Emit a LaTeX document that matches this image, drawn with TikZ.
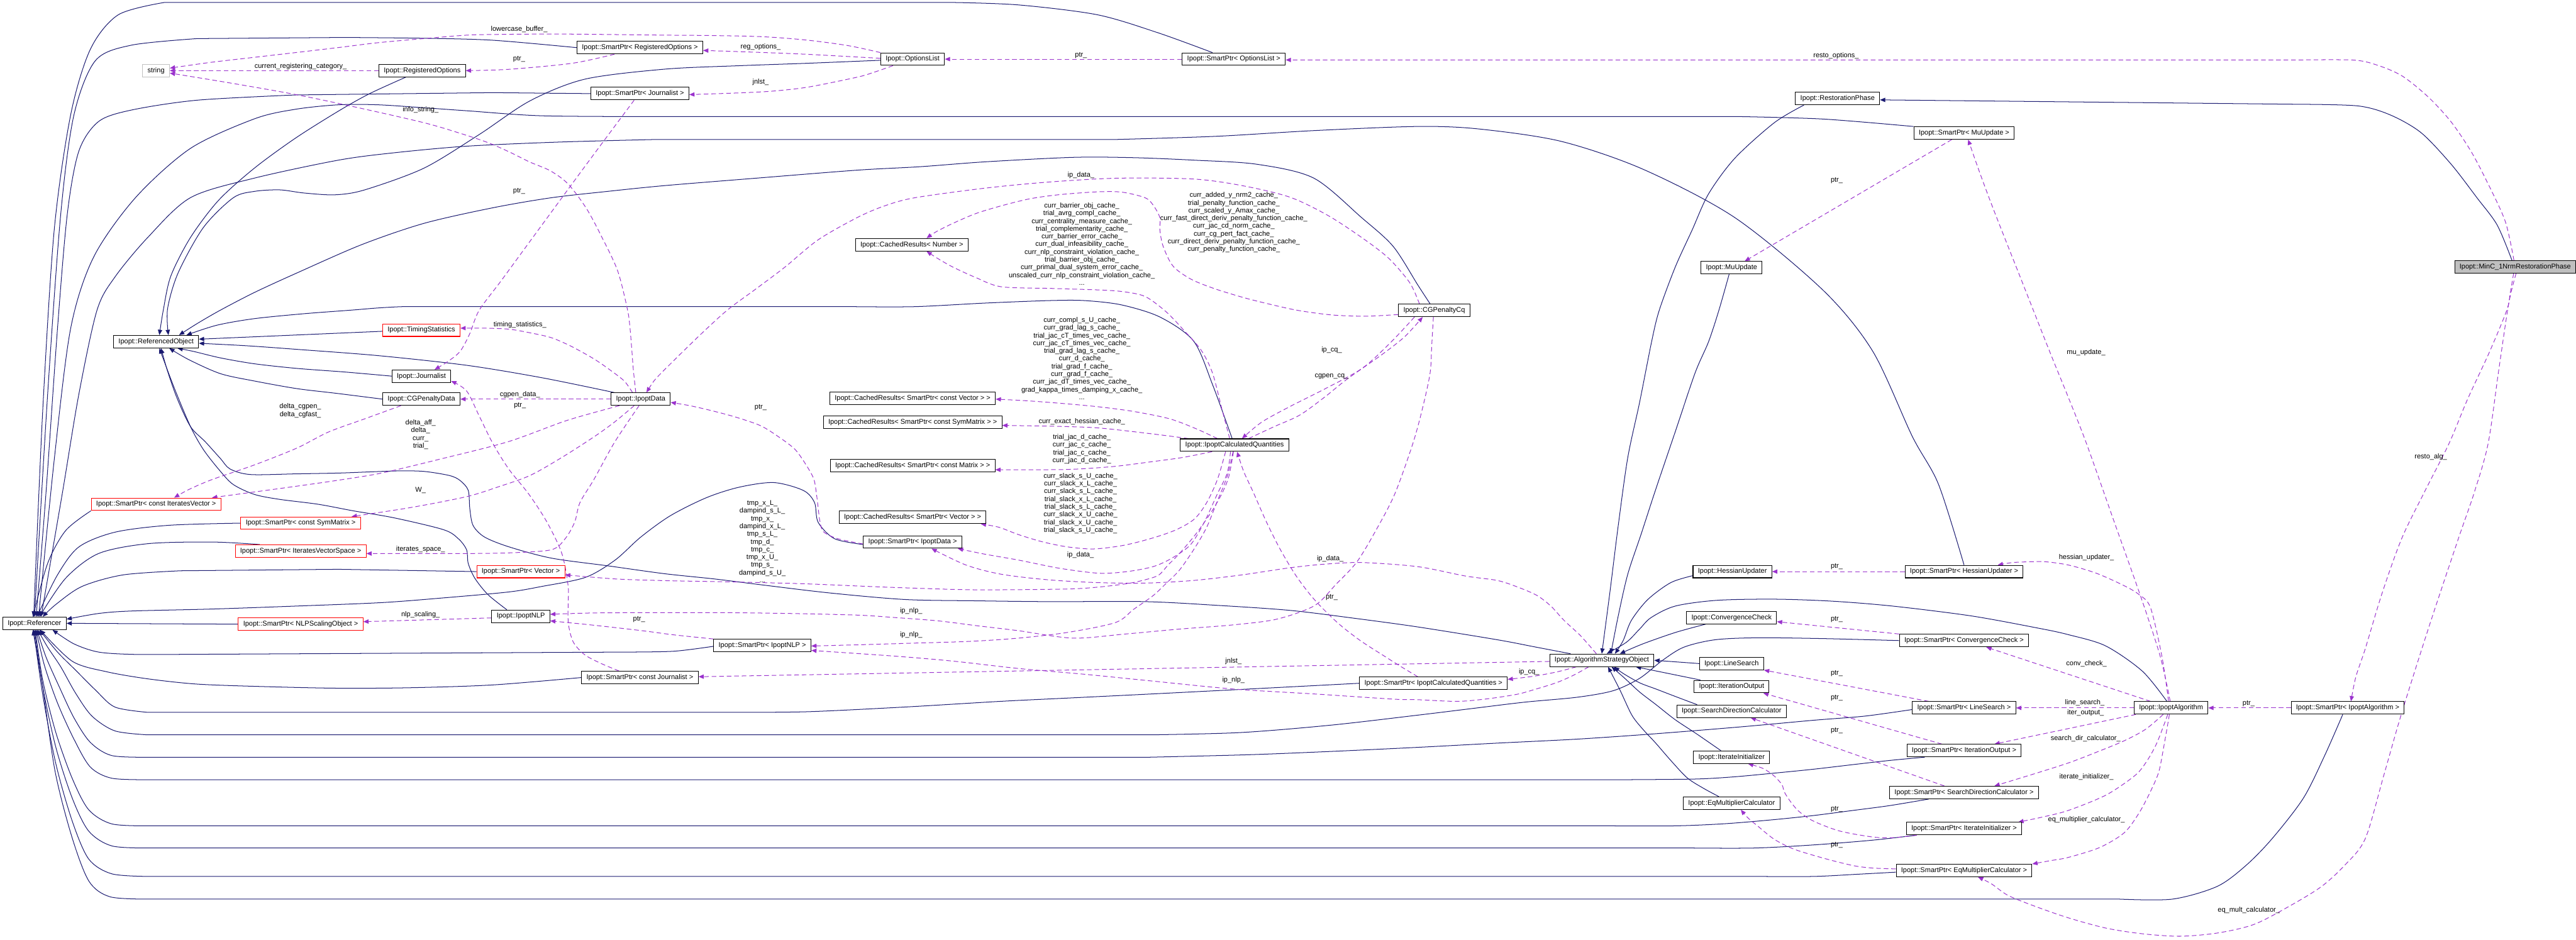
\documentclass[tikz,border=0pt]{standalone}
\usepackage{fontspec}
\setmainfont{Liberation Sans}
\usetikzlibrary{arrows.meta,backgrounds}
\definecolor{inhblue}{HTML}{191970}
\definecolor{mempurple}{HTML}{9A32CD}
\definecolor{undocred}{HTML}{FF0000}
\definecolor{mainfill}{HTML}{BFBFBF}

\begin{document}
\begin{tikzpicture}[x=1mm, y=-1mm,
    font=\fontsize{12}{13.4}\selectfont,
    cls/.style={draw=black, fill=white, line width=1.1pt, minimum height=7.6mm, inner xsep=3mm, inner ysep=0pt},
    clsred/.style={cls, draw=undocred},
    clsext/.style={cls, draw=mainfill},
    clsmain/.style={cls, fill=mainfill},
    inherit/.style={draw=inhblue, line width=1.1pt, -{Triangle[length=3.2mm, width=2.6mm]}},
    member/.style={draw=mempurple, line width=1.1pt, dash pattern=on 8pt off 5pt, -{Triangle[length=3.2mm, width=2.6mm]}},
    lbl/.style={inner sep=0pt, align=center}]
    \useasboundingbox (0,0) rectangle (1568,572);
    % classes, left part
    \node[clsext] (str) at (95,43) {string};
    \node[cls] (regopt) at (257,43) {Ipopt::RegisteredOptions};
    \node[cls] (spregopt) at (389.5,29) {Ipopt::SmartPtr< RegisteredOptions >};
    \node[cls] (optlist) at (555.5,36) {Ipopt::OptionsList};
    \node[cls] (spoptlist) at (751,36) {Ipopt::SmartPtr< OptionsList >};
    \node[cls] (spjnl) at (389.5,57) {Ipopt::SmartPtr< Journalist >};
    \node[cls] (refobj) at (95,208) {Ipopt::ReferencedObject};
    \node[clsred] (timing) at (256.5,201) {Ipopt::TimingStatistics};
    \node[cls] (jnl) at (256.5,229) {Ipopt::Journalist};
    \node[cls] (cgpdata) at (256.5,243) {Ipopt::CGPenaltyData};
    \node[cls] (ipdata) at (390,243) {Ipopt::IpoptData};
    \node[clsred] (spitv) at (95,307) {Ipopt::SmartPtr< const IteratesVector >};
    \node[clsred] (spsym) at (183,318.5) {Ipopt::SmartPtr< const SymMatrix >};
    \node[clsred] (spivs) at (183,335.5) {Ipopt::SmartPtr< IteratesVectorSpace >};
    \node[clsred] (spvec) at (317,348) {Ipopt::SmartPtr< Vector >};
    \node[cls] (referencer) at (21,379.5) {Ipopt::Referencer};
    \node[clsred] (spnlps) at (183,380) {Ipopt::SmartPtr< NLPScalingObject >};
    \node[cls] (ipnlp) at (317,375.2) {Ipopt::IpoptNLP};
    \node[cls] (spcjnl) at (389.5,412.5) {Ipopt::SmartPtr< const Journalist >};
    \node[cls] (spipnlp) at (464,393) {Ipopt::SmartPtr< IpoptNLP >};
    % classes, middle part
    \node[cls] (crnum) at (555,149) {Ipopt::CachedResults< Number >};
    \node[cls] (crvec) at (555.5,242.5) {Ipopt::CachedResults< SmartPtr< const Vector > >};
    \node[cls] (crsym) at (555.5,257) {Ipopt::CachedResults< SmartPtr< const SymMatrix > >};
    \node[cls] (crmat) at (555.5,283.5) {Ipopt::CachedResults< SmartPtr< const Matrix > >};
    \node[cls] (crsvec) at (555.5,315) {Ipopt::CachedResults< SmartPtr< Vector > >};
    \node[cls] (spipdata) at (555.5,330) {Ipopt::SmartPtr< IpoptData >};
    \node[cls] (ipcq) at (751.5,271) {Ipopt::IpoptCalculatedQuantities};
    \node[cls] (cgpcq) at (873,189) {Ipopt::CGPenaltyCq};
    \node[cls] (spipcq) at (872.5,416) {Ipopt::SmartPtr< IpoptCalculatedQuantities >};
    \node[cls] (aso) at (975,402) {Ipopt::AlgorithmStrategyObject};
    % classes, right part
    \node[cls] (resto) at (1118.5,60) {Ipopt::RestorationPhase};
    \node[cls] (spmu) at (1195.5,81) {Ipopt::SmartPtr< MuUpdate >};
    \node[cls] (mu) at (1054,163) {Ipopt::MuUpdate};
    \node[cls] (hess) at (1054.5,348) {Ipopt::HessianUpdater};
    \node[cls] (sphess) at (1195.5,348) {Ipopt::SmartPtr< HessianUpdater >};
    \node[cls] (conv) at (1054,376) {Ipopt::ConvergenceCheck};
    \node[cls] (spconv) at (1195.5,390) {Ipopt::SmartPtr< ConvergenceCheck >};
    \node[cls] (ls) at (1054,404) {Ipopt::LineSearch};
    \node[cls] (itout) at (1054,418) {Ipopt::IterationOutput};
    \node[cls] (sdc) at (1054,433) {Ipopt::SearchDirectionCalculator};
    \node[cls] (itinit) at (1054,461) {Ipopt::IterateInitializer};
    \node[cls] (eqm) at (1054,489) {Ipopt::EqMultiplierCalculator};
    \node[cls] (spls) at (1195.5,431) {Ipopt::SmartPtr< LineSearch >};
    \node[cls] (spitout) at (1195.5,457) {Ipopt::SmartPtr< IterationOutput >};
    \node[cls] (spsdc) at (1195.5,482.5) {Ipopt::SmartPtr< SearchDirectionCalculator >};
    \node[cls] (spitinit) at (1195.5,504.5) {Ipopt::SmartPtr< IterateInitializer >};
    \node[cls] (speqm) at (1195.5,530) {Ipopt::SmartPtr< EqMultiplierCalculator >};
    \node[cls] (alg) at (1321.5,431) {Ipopt::IpoptAlgorithm};
    \node[cls] (spalg) at (1429,431) {Ipopt::SmartPtr< IpoptAlgorithm >};
    \node[clsmain] (minc) at (1531,162.5) {Ipopt::MinC\_1NrmRestorationPhase};

    \begin{pgfonlayer}{background}
    % inheritance, SmartPtr -> Referencer
    \draw[inherit] plot[smooth] coordinates {([xshift=-13mm]spoptlist.north) (705,20) (668,9) (620,3) (580,1.5)} -- plot[smooth] coordinates {(100,1.5) (72,9) (55,30) (43,70) (33,140) (26,250) ([xshift=-0.5mm]referencer.north)};
    \draw[inherit] plot[smooth] coordinates {(spregopt.west) (300,24.5) (258,23.3) (210,22.8)} -- plot[smooth] coordinates {(120,23.5) (80,27.5) (58,37) (45,70) (37,130) (29,240) (referencer.north)};
    \draw[inherit] plot[smooth] coordinates {(spjnl.west) (300,56.4)} -- plot[smooth] coordinates {(180,57.8) (120,61) (80,67) (60,74) (48,92) (41,130) (35,200) (28,300) ([xshift=1mm]referencer.north)};
    \draw[inherit] plot[smooth] coordinates {(spmu.north west) (1110,72.5) (1060,71)} -- plot[smooth] coordinates {(400,71) (330,70.5) (285,67.5) (258,65.6) (230,63.8) (206,63.8) (180,66.5) (155,72.3) (116,90.3) (82.5,120.3) (57,156.5) (43,200) (33,280) ([xshift=2.5mm]referencer.north)};
    \draw[inherit] plot[smooth] coordinates {(sphess.north) (1180,295) (1164,265.7) (1140,214) (1110,177) (1056,132.5) (1000,103) (950,86) (900,78.5) (863,77) (800,79.5) (740,83) (680,84.9)} -- plot[smooth] coordinates {(400,84.9) (340,86.5) (284,89) (240,93) (206,97.5) (155,108.4) (116,120.3) (90,144.5) (70,168.6) (59,189) (48,240) (38,300) ([xshift=4mm]referencer.north)};
    \draw[inherit] plot[smooth] coordinates {(spitv.south west) (40,323) (29,343) ([xshift=-1mm]referencer.north)};
    \draw[inherit] plot[smooth] coordinates {(spsym.west) (103,319.8) (70,324) (48,333) (35,350) ([xshift=1.5mm]referencer.north)};
    \draw[inherit] plot[smooth] coordinates {([xshift=-25mm]spivs.north) (129,330) (90,331) (60,337) (40,352) ([xshift=3mm]referencer.north)};
    \draw[inherit] plot[smooth] coordinates {(spvec.west) (206,346.6)} -- plot[smooth] coordinates {(110,347.5) (75,350) (50,357) (34,368) ([xshift=5mm]referencer.north)};
    \draw[inherit] plot[smooth] coordinates {([yshift=-1.5mm]spipdata.west) (508,328) (498,318) (495.8,306) (489,298.6) (471,293.8) (450,296.6) (430,303) (408,314) (390,327) (374.4,341) (356.4,351.5) (330,357) (309.7,360.4) (270,364) (232,366.9) (180,369) (129,370.8) (80,372) (60,373.5) ([yshift=2.5mm]referencer.east)};
    \draw[inherit] (spnlps.west) -- (referencer.east);
    \draw[inherit] plot[smooth] coordinates {([yshift=-0.5mm]spipnlp.west) (410,396.5) (380,397)} -- plot[smooth] coordinates {(110,398.4) (81,398.4) (60,397) (45,392) ([xshift=11mm]referencer.south)};
    \draw[inherit] plot[smooth] coordinates {(spcjnl.west) (300,417) (250,418.7) (206,419) (160,418) (120,416.5) (90,413.3) (65,409) (44,402.6) ([xshift=3.5mm]referencer.south)};
    \draw[inherit] plot[smooth] coordinates {(spipcq.west) (760,419.5) (697,422.7) (650,425) (609,427) (550,430.5) (492,433.3) (450,433.7)} -- plot[smooth] coordinates {(90,433.7) (70,430.5) (58,420) (46,408) (35,397) ([xshift=3mm]referencer.south)};
    \draw[inherit] plot[smooth] coordinates {(spconv.west) (1110,388.8) (1070,388.3) (1044,389.5) (1025,394) (1012,402) (998,413) (982,420.5) (960,424.5) (928,427.5) (895,431.5) (863,435.4) (810,441.5) (755,446) (700,447.4)} -- plot[smooth] coordinates {(90,447.4) (70,445) (56,436) (46,422) (37,406) (29,394) ([xshift=2mm]referencer.south)};
    \draw[inherit] plot[smooth] coordinates {([yshift=-1mm]spls.west) (1135,436) (1104,438.5) (1060,442.5) (1008,446.7) (960,450) (910,452.5) (863,455) (810,457.5) (760,459.5) (700,461)} -- plot[smooth] coordinates {(90,461) (68,460) (55,452) (45,437) (36,418) (28,400) ([xshift=1.5mm]referencer.south)};
    \draw[inherit] plot[smooth] coordinates {([xshift=-24mm]spitout.south) (1150,463) (1128,465.5) (1104,468.3) (1080,470.7) (1055,473) (1031.8,474.3) (990,474.7)} -- plot[smooth] coordinates {(90,474.7) (68,473.8) (55,467) (45,450) (35,428) (27,405) ([xshift=1mm]referencer.south)};
    \draw[inherit] plot[smooth] coordinates {([xshift=-21.5mm]spsdc.south) (1150,490.5) (1128,493.4) (1104,496.5) (1080,499) (1050,501.5) (1019.7,502.8) (980,502.8)} -- plot[smooth] coordinates {(90,502.8) (68,501.6) (54,493) (44,474) (34,446) (26,414) ([xshift=0.5mm]referencer.south)};
    \draw[inherit] plot[smooth] coordinates {([xshift=-29mm]spitinit.south) (1140,511.5) (1104,514.4) (1068,516.3) (1030,516.3)} -- plot[smooth] coordinates {(90,516.3) (68,515) (54,506) (44,486) (34,455) (26,418) (referencer.south)};
    \draw[inherit] plot[smooth] coordinates {([yshift=-1mm]speqm.west) (1130,532.3) (1104,533.6) (1070,533.6)} -- plot[smooth] coordinates {(90,533.6) (68,532) (54,523) (44,500) (34,465) (26,423) ([xshift=-0.5mm]referencer.south)};
    \draw[inherit] plot[smooth] coordinates {([xshift=-3mm]spalg.south) (1415,460) (1402,486) (1383,510.6) (1367,527) (1349.5,539.7) (1322.4,547.4) (1290,547.4)} -- plot[smooth] coordinates {(90,547.4) (67,546) (54.2,536.6) (43.9,510) (33.6,470) (25.8,417) ([xshift=-1mm]referencer.south)};
    % inheritance -> ReferencedObject
    \draw[inherit] plot[smooth] coordinates {([xshift=-10mm]regopt.south) (225,57) (206.4,67.4) (180,84) (154.8,102.4) (133,122) (116,144.5) (104,168) (99.4,188.8) ([xshift=2mm]refobj.north)};
    \draw[inherit] plot[smooth] coordinates {([yshift=-0.7mm]optlist.west) (492,38.5) (450,40) (404.6,42.1) (356,48.2) (322.6,61.4) (291.7,81.9) (258,102.4) (222,115.6) (203.9,118.6) (185,117.5) (170.3,115.6) (155,116.5) (142,120.4) (123.8,138.5) (108.4,166.2) (102,188) ([xshift=7.5mm]refobj.north)};
    \draw[inherit] ([yshift=-0.7mm]timing.west) -- ([yshift=1.5mm]refobj.east);
    \draw[inherit] plot[smooth] coordinates {(jnl.west) (210,226.5) (180.7,224.3) (155,221.5) (134.2,217.9) (118,214) ([xshift=13mm]refobj.south)};
    \draw[inherit] plot[smooth] coordinates {(cgpdata.west) (205,239.5) (180.7,236.6) (155,232) (134.2,227.5) (115,219) ([xshift=8mm]refobj.south)};
    \draw[inherit] plot[smooth] coordinates {([xshift=-16mm]ipdata.north) (330,230) (284,222.4) (230,216.5) (180.7,212.7) (150,210.5) ([yshift=-1mm]refobj.east)};
    \draw[inherit] plot[smooth] coordinates {([xshift=-8.5mm]ipnlp.north) (297,362) (289,352) (285,343) (284,334.7) (279,328) (270,322.5) (240,315.3) (215,311) (193.6,307) (170,304) (154.8,301) (142,295) (134.2,287) (124,274) (116,259.8) (106,236) ([xshift=2mm]refobj.south)};
    \draw[inherit] plot[smooth] coordinates {([xshift=-1.5mm]ipcq.north) (738,234) (726.5,207.6) (706,193) (682.5,185.6) (660,183) (638.8,183) (600,184.5) (556.8,186.7) (520,186.7)} -- plot[smooth] coordinates {(260,186.7) (245,186.7) (230,187.5) (214,188.8) (185,191) (154.8,194) (132,198) ([xshift=18.5mm]refobj.north)};
    \draw[inherit] plot[smooth] coordinates {([xshift=-2.5mm]cgpcq.north) (863,173.5) (848,150) (828.8,132.5) (799.6,108.4) (765,100) (726.5,97.5) (690,96) (653.4,95.8) (600,98.5) (560,101.5) (521.7,103.6) (460,108.5) (404.6,113) (370,116.5) (335.5,120.4) (300,126.5) (258,136) (220,149) (180.7,166.2) (155,178) (134.2,188.8) (120,197) ([xshift=14mm]refobj.north)};
    \draw[inherit] plot[smooth] coordinates {([xshift=-19mm]aso.north) (935,394) (911.4,389.5) (863,381.7) (825,376.5) (785,371.6) (740,368.5) (697,366.3) (638.8,366.3) (595,365.8) (551,365) (505,361) (463,356) (435,352.5) (404.6,349.3) (370,344.5) (335.6,339.8) (310,333) (295,327) (288,320) (286,310) (285,298.5) (280,292.5) (273.5,289.5) (258,287) (242.5,286.7) (225,287.3) (206.4,288) (180,288.5) (152.3,288.9) (140,285.5) (134.2,279.2) (125,269) (116,259.8) (108,243) (102,226) ([xshift=3mm]refobj.south)};
    % inheritance -> AlgorithmStrategyObject, RestorationPhase
    \draw[inherit] plot[smooth] coordinates {([xshift=-20.5mm]resto.south) (1080,74.7) (1056,96.3) (1040,118) (1030,140) (1019.7,162.6) (1010,188.8) (1005.4,207.6) (998,245) (990.8,278.6) (985,320) (980,360) (aso.north)};
    \draw[inherit] plot[smooth] coordinates {([xshift=-1.5mm]mu.south) (1046.3,188.8) (1040,208) (1031.8,227) (1020,262) (1007.8,298) (999,325) (990.8,349.6) (985,375) ([xshift=5.5mm]aso.north)};
    \draw[inherit] plot[smooth] coordinates {([yshift=-2.5mm]hess.west) (1017,354.7) (1003,365) (993,377.7) (988,390) ([xshift=8mm]aso.north)};
    \draw[inherit] plot[smooth] coordinates {([xshift=-15.7mm]conv.south) (1020,385) (1000,392) ([xshift=11mm]aso.north)};
    \draw[inherit] (ls.west) -- (aso.east);
    \draw[inherit] ([xshift=-19mm]itout.north) -- ([xshift=20.7mm]aso.south);
    \draw[inherit] plot[smooth] coordinates {([xshift=-21mm]sdc.north) (1019.7,424) (1008,419.5) (998,415.7) (988,410) ([xshift=7.5mm]aso.south)};
    \draw[inherit] plot[smooth] coordinates {([xshift=-6.5mm]itinit.north) (1033,447) (1019.7,438.2) (1008,429) (998,421.3) (989,413) ([xshift=6mm]aso.south)};
    \draw[inherit] plot[smooth] coordinates {([xshift=-7.7mm]eqm.north) (1037,480) (1027,473.6) (1017,463) (1007.8,452.4) (1000,444) (993.3,435.4) (986,420) ([xshift=3.8mm]aso.south)};
    \draw[inherit] plot[smooth] coordinates {([xshift=-2.5mm]alg.north) (1304,408.6) (1281.6,393.2) (1259,386.4) (1241,382.5) (1200,375) (1152,369) (1115,366) (1080,364.8) (1045,365.5) (1019.7,369) (1005,376) (998,383) (990,391) ([xshift=3mm]aso.north)};
    \draw[inherit] plot[smooth] coordinates {([xshift=-2mm]minc.north) (1520,137) (1507.7,120.4) (1492,100) (1473.7,80.8) (1455,70) (1435.4,64.5) (1400,63.5)} -- ([yshift=-0.8mm]resto.east);
    % members, top left
    \draw[member] (regopt.west) -- (str.east);
    \draw[member] plot[smooth] coordinates {(optlist.north west) (515.8,27.7) (490,24.3) (463,22.3) (430,21.6) (404.6,21.4) (370,21) (335.6,20.7) (300,21) (284,21.4) (258,23.5) (230,26) (206.4,28.9) (180,32) (154.8,34.9) (128,38) ([yshift=1.5mm]str.east)};
    \draw[member] plot[smooth] coordinates {([xshift=-3mm]ipdata.north) (385.5,225) (384.7,214.6) (383.5,200) (382,188.8) (376,165) (366.4,144.5) (357,127) (345.8,112) (335,104) (322.6,98.7) (310,92.5) (296.7,86.7) (278,80.5) (258,74.7) (220,66) (180.7,57.7) (140,50.5) ([yshift=-1.5mm]str.east)};
    \draw[member] plot[smooth] coordinates {([xshift=-15.5mm]spregopt.south) (348.4,38.5) (309.7,42.2) (regopt.east)};
    \draw[member] plot[smooth] coordinates {([yshift=0.5mm]optlist.west) (492,33.1) (460,31.8) ([yshift=-1.7mm]spregopt.east)};
    \draw[member] plot[smooth] coordinates {([xshift=-12mm]optlist.south) (532,44) (521.7,47) (492,53) (470,55.5) (448.6,56.6) ([yshift=-0.6mm]spjnl.east)};
    \draw[member] (spoptlist.west) -- (optlist.east);
    \draw[member] plot[smooth] coordinates {([xshift=-0.8mm]minc.north) (1525,135) (1514.4,111.8) (1504,92) (1491.8,74) (1478,59) (1462.4,46.4) (1448,40) (1433,36.6) (1400,36.5)} -- ([yshift=-0.5mm]spoptlist.east);
    \draw[member] plot[smooth] coordinates {([xshift=-3.5mm]spjnl.south) (357,100) (324,145) (305,171) (291.6,189) (286,203) (280,214) (272,220.5) ([xshift=8mm]jnl.north)};
    \draw[member] plot[smooth] coordinates {([xshift=-5mm]ipdata.north) (380,232) (371,225) (361.5,218.5) (348,211) (335.6,205.6) (322,202.5) (309.7,200.4) (295,199.8) ([yshift=1.2mm]timing.east)};
    \draw[member] (ipdata.west) -- (cgpdata.east);
    \draw[member] plot[smooth] coordinates {([xshift=-12.7mm]spcjnl.north) (366,404) (356,398.7) (349,391) (346,380) (345.8,368) (345.8,356.6) (342,337) (333,318) (322,301) (309.7,285.6) (300,270) (291.7,253.3) (284,238) ([yshift=1mm]jnl.south east)};
    \draw[member] plot[smooth] coordinates {([xshift=-4mm]ipdata.south) (374,257) (361.5,266) (342,278.5) (322.6,289.5) (303,296.5) (283.9,302.4) (250,309) ([xshift=31mm]spsym.north)};
    \draw[member] plot[smooth] coordinates {([xshift=-13mm]ipdata.south) (345,256) (309.7,268.8) (270,279) (232.3,288) (205,292.5) (180.6,296) (155,299.5) ([xshift=34mm]spitv.north)};
    \draw[member] plot[smooth] coordinates {([xshift=-12.5mm]cgpdata.south) (222,255) (200,263) (180.7,272.8) (155,283) (129,292) (115,298) ([xshift=11mm]spitv.north)};
    \draw[member] plot[smooth] coordinates {([xshift=-1mm]ipdata.south) (374.3,268.9) (361.4,292.1) (353,306) (349.8,317.9) (344,328) (335.6,334.7) (310,336.6) (284,337) (254,337) ([yshift=-1.5mm]spivs.east)};
    \draw[member] ([yshift=-1mm]ipnlp.west) -- ([yshift=1.5mm]spnlps.east);
    \draw[member] plot[smooth] coordinates {(spipnlp.north west) (410,386.5) (391,384) (360,380.5) ([yshift=-2.8mm]ipnlp.east)};
    % members, middle
    \draw[member] plot[smooth] coordinates {([xshift=-0.5mm]cgpcq.south) (871.5,210) (870.5,227) (866,248) (860,270) (849,300.7) (838,322) (826,342) (813,356) (800,368.8) (777,377) (750,380.5) (718,383) (685,386) (653,388.5) (620,384) (595,381) (571,378) (545,376) (522,374.5) (480,373.5) (440,373) (391,373) (360,373.2) ([yshift=1.2mm]ipnlp.east)};
    \draw[member] plot[smooth] coordinates {([xshift=-1mm]ipcq.south) (747,290) (741,305) (734.5,321) (727,334) (718,347) (710,355) (701.8,362.7) (690,371) (679,379) (650,385) (620,388.5) (590,390.5) (554.6,391.6) (525,392.5) ([yshift=-0.3mm]spipnlp.east)};
    \draw[member] plot[smooth] coordinates {([xshift=-8mm]aso.south) (958,411) (947.5,415.6) (935,419.5) (923.4,422.7) (905,425.5) (887,427) (863,426) (849,425.7) (800,422.5) (750.8,419.5) (700,414.5) (660,410.5) (620,407) (580,402.5) (545,399.5) ([yshift=-3mm]spipnlp.east)};
    \draw[member] ([yshift=-0.7mm]aso.west) -- ([yshift=0.5mm]spcjnl.east);
    \draw[member] plot[smooth] coordinates {([yshift=-1.2mm]spipdata.west) (510,328) (501.2,323.7) (499,317) (498.2,310.8) (497,301) (495.3,291.5) (490,282) (483.7,273.4) (474,266) (463,259.2) (448,254) (433.9,250.2) (420,247) ([yshift=-2mm]ipdata.east)};
    \draw[member] plot[smooth] coordinates {([xshift=-9mm]cgpcq.north) (858,172) (845,157) (828.7,144.5) (808,131) (785,120) (756,113) (726.5,109) (680,108.5) (638.8,110.8) (600,114.5) (556.8,120.4) (538,125.5) (521.7,132.5) (498,146) (477.8,162.6) (460,176) (442.7,188.8) (425,205) (404.6,225) (398,232) ([xshift=3.5mm]ipdata.north)};
    \draw[member] plot[smooth] coordinates {([xshift=-2.5mm]ipcq.south) (747,288) (741,300.7) (733,318) (724.6,331.7) (713,340) (701.8,345) (686,348) (669,349) (645,346) (620,341) (600,337.5) ([xshift=27.5mm]spipdata.south)};
    \draw[member] plot[smooth] coordinates {([xshift=-3.3mm]aso.north) (962,387) (952,377.7) (944,369) (935.5,362.5) (924,357.5) (911.4,353.4) (892,350.7) (863,345) (829,342.5) (806,343.5) (785,345.7) (756,350) (726.5,353.4) (697,355) (668,354.7) (638,353) (609.4,349.6) (588,344) ([xshift=11.5mm]spipdata.south)};
    \draw[member] plot[smooth] coordinates {([xshift=-0.7mm]ipcq.south) (748,290) (744,300) (737.8,311) (728,325) (718,336.9) (711,344) (705,350.3) (695,353.5) (685.5,355.4) (670,357.3) (653,358.5) (620,359) (587,359) (540,357.5) (489,355.4) (445,354.3) (404.6,353.5) (375,352.5) ([yshift=-2mm]spvec.east)};
    \draw[member] plot[smooth] coordinates {([yshift=-2.5mm]cgpcq.west) (832,192.5) (814,192) (800,190.5) (785,188) (760,182) (740,176) (725,170) (714,162) (708,150) (706,140) (706,132.5) (702,125) (697,120.4) (683,117) (668,116.8) (645,118.5) (627,121) (609.5,125.3) (594,130) (580,136) (570,141) ([xshift=9mm]crnum.north)};
    \draw[member] plot[smooth] coordinates {([xshift=-3mm]ipcq.north) (744,250) (738,227) (731,213) (720.5,201) (710,190) (697,180.5) (683,177.5) (668,176.5) (640,175.6) (609.5,174.6) (594,169) (580,162.6) (571,157.5) ([xshift=9mm]crnum.south)};
    \draw[member] plot[smooth] coordinates {([xshift=-10.5mm]ipcq.north) (728,261) (712,255) (690,250.5) (668,247.6) (645,245.5) (625,244) ([yshift=-0.5mm]crvec.east)};
    \draw[member] plot[smooth] coordinates {([xshift=-28mm]ipcq.north) (700,264) (668,260.5) (640,259.5) ([yshift=-2mm]crsym.east)};
    \draw[member] plot[smooth] coordinates {([xshift=-13.7mm]ipcq.south) (720,278.5) (701.8,281) (678,284) (653,285.7) (630,286) ([yshift=-2.5mm]crmat.east)};
    \draw[member] plot[smooth] coordinates {([xshift=-5.5mm]ipcq.south) (741,292) (734.5,306) (727,316) (716,322.5) (701.8,327.5) (684,332) (665.8,334.2) (650,333) (635,330) (620,325.5) (608,321) ([xshift=41.5mm]crsvec.south)};
    \draw[member] plot[smooth] coordinates {([xshift=-12mm]cgpcq.south) (846,209) (828.9,224.4) (806,237) (785,247.6) (768,257) ([xshift=4.5mm]ipcq.north)};
    \draw[member] plot[smooth] coordinates {([xshift=8.5mm]ipcq.north) (775,260) (791,252.8) (806,242) (820,230.8) (841,216) (855,205) ([xshift=-7mm]cgpcq.south)};
    \draw[member] plot[smooth] coordinates {([xshift=-9.5mm]spipcq.north) (853,406) (843.5,400) (828,390) (814,379) (800,365) (789,350.7) (779,334) (770.5,317) (763,300) (757,287) ([xshift=1.5mm]ipcq.south)};
    \draw[member] plot[smooth] coordinates {([xshift=-15.5mm]aso.south) (948,409) (935.5,411.4) (925,412.8) ([yshift=2.4mm]spipcq.east)};
    % members, right
    \draw[member] ([xshift=-7.5mm]spmu.south) -- ([xshift=8mm]mu.north);
    \draw[member] (sphess.west) -- (hess.east);
    \draw[member] (spconv.north west) -- ([yshift=-2.5mm]conv.east);
    \draw[member] ([xshift=-21.5mm]spls.north) -- (ls.south east);
    \draw[member] ([xshift=-13.5mm]spitout.north) -- ([xshift=-3.7mm]itout.south east);
    \draw[member] ([xshift=-12mm]spsdc.north) -- ([xshift=11.6mm]sdc.south);
    \draw[member] plot[smooth] coordinates {([xshift=-28.8mm]spitinit.south) (1152,510) (1140,509.6) (1120,506) (1104,500) (1095,494) (1089.6,487.7) (1086,482) (1084.7,477.8) (1080,472.5) (1073,467.8) ([xshift=10mm]itinit.south)};
    \draw[member] plot[smooth] coordinates {([yshift=1mm]speqm.west) (1140,528.5) (1128,527) (1110,522.5) (1092,517) (1080,511) (1070,503) (1064,498) ([xshift=5.6mm]eqm.south)};
    \draw[member] plot[smooth] coordinates {([xshift=-0.5mm]alg.north) (1315,400) (1304,366) (1287,318) (1270,270) (1259,242) (1248,215) (1231,172) (1214,129) (1205,105) ([xshift=2.5mm]spmu.south)};
    \draw[member] plot[smooth] coordinates {([xshift=-1.5mm]alg.north) (1316,400) (1309,370) (1302,362) (1293,356.6) (1276,349) (1259,344) (1245,342) (1236.6,342) (1225,342.5) ([xshift=20.5mm]sphess.north)};
    \draw[member] ([xshift=-12.5mm]alg.north) -- ([xshift=13.5mm]spconv.south);
    \draw[member] (alg.west) -- (spls.east);
    \draw[member] ([xshift=-21.5mm]alg.south) -- ([xshift=18.5mm]spitout.north);
    \draw[member] plot[smooth] coordinates {([xshift=-4.8mm]alg.south) (1306,444) (1293,451) (1276,458) (1259,464.5) (1237,471.5) ([xshift=18.5mm]spsdc.north)};
    \draw[member] plot[smooth] coordinates {([xshift=-2mm]alg.south) (1313,452) (1307,463) (1299.7,472) (1282,484) (1259,493.4) (1243,497.5) ([xshift=33mm]spitinit.north)};
    \draw[member] plot[smooth] coordinates {([xshift=-1mm]alg.south) (1317,455) (1314,470) (1309,481.8) (1302,495) (1293,507) (1278,516) (1259,522) (1248,524) (speqm.north east)};
    \draw[member] (spalg.west) -- (alg.east);
    \draw[member] plot[smooth] coordinates {([xshift=-1mm]minc.south) (1528,178) (1525.8,189) (1515,215) (1502,243) (1490.7,270) (1476,299) (1462,327.6) (1450,361) (1439.7,395) (1434,412) ([xshift=2mm]spalg.north)};
    \draw[member] plot[smooth] coordinates {([xshift=0.5mm]minc.south) (1527,185) (1521,225) (1514.5,270) (1506,300) (1496.5,327.6) (1479,380) (1462,433.7) (1451,472) (1439.7,510.6) (1427,527) (1412.7,540) (1393,552) (1372,562.8) (1350,568) (1327,570) (1304,568.5) (1281.6,565) (1258,558.5) (1236.6,551) (1222,545) (1212,538) ([xshift=8.5mm]speqm.south)};
    \end{pgfonlayer}

    % member labels
    \node[lbl] (lcat) at (183,40.5) {current\_registering\_category\_};
    \node[lbl] (llow) at (316,18) {lowercase\_buffer\_};
    \node[lbl] (linfo) at (256,67) {info\_string\_};
    \node[lbl] (lptrregopt) at (316,36) {ptr\_};
    \node[lbl] (lregopt) at (463,28.7) {reg\_options\_};
    \node[lbl] (ljnlsttop) at (463,50) {jnlst\_};
    \node[lbl] (lptroptlist) at (658,33.7) {ptr\_};
    \node[lbl] (lrestoopt) at (1117.6,34) {resto\_options\_};
    \node[lbl] (lptrjnl) at (316,116.5) {ptr\_};
    \node[lbl] (ltiming) at (316.5,197.6) {timing\_statistics\_};
    \node[lbl] (lcgpendata) at (316.5,240.3) {cgpen\_data\_};
    \node[lbl] (lptrcjnl) at (316.5,246.8) {ptr\_};
    \node[lbl] (lw) at (256,298.5) {W\_};
    \node[lbl] (ldelta) at (256,264.6) {delta\_aff\_\\delta\_\\curr\_\\trial\_};
    \node[lbl] (ldeltacg) at (182.8,250) {delta\_cgpen\_\\delta\_cgfast\_};
    \node[lbl] (litspace) at (256,334.4) {iterates\_space\_};
    \node[lbl] (lnlpscal) at (256,374.3) {nlp\_scaling\_};
    \node[lbl] (lptripnlp) at (389,377) {ptr\_};
    \node[lbl] (ltmp) at (464,329.7) {tmp\_x\_L\_\\dampind\_s\_L\_\\tmp\_x\_\\dampind\_x\_L\_\\tmp\_s\_L\_\\tmp\_d\_\\tmp\_c\_\\tmp\_x\_U\_\\tmp\_s\_\\dampind\_s\_U\_\\...};
    \node[lbl] (lipnlpa) at (554.6,372) {ip\_nlp\_};
    \node[lbl] (lipnlpb) at (554.6,386.4) {ip\_nlp\_};
    \node[lbl] (lipnlpc) at (750.8,414) {ip\_nlp\_};
    \node[lbl] (ljnlstbot) at (750.8,402.4) {jnlst\_};
    \node[lbl] (lptripdata) at (463,248) {ptr\_};
    \node[lbl] (lipdataa) at (658,106.6) {ip\_data\_};
    \node[lbl] (lipdatab) at (657.7,338) {ip\_data\_};
    \node[lbl] (lipdatac) at (809.7,340) {ip\_data\_};
    \node[lbl] (lcgcache) at (751,135.5) {curr\_added\_y\_nrm2\_cache\_\\trial\_penalty\_function\_cache\_\\curr\_scaled\_y\_Amax\_cache\_\\curr\_fast\_direct\_deriv\_penalty\_function\_cache\_\\curr\_jac\_cd\_norm\_cache\_\\curr\_cg\_pert\_fact\_cache\_\\curr\_direct\_deriv\_penalty\_function\_cache\_\\curr\_penalty\_function\_cache\_};
    \node[lbl] (lnumcache) at (658.5,148.5) {curr\_barrier\_obj\_cache\_\\trial\_avrg\_compl\_cache\_\\curr\_centrality\_measure\_cache\_\\trial\_complementarity\_cache\_\\curr\_barrier\_error\_cache\_\\curr\_dual\_infeasibility\_cache\_\\curr\_nlp\_constraint\_violation\_cache\_\\trial\_barrier\_obj\_cache\_\\curr\_primal\_dual\_system\_error\_cache\_\\unscaled\_curr\_nlp\_constraint\_violation\_cache\_\\...};
    \node[lbl] (lveccache) at (658.5,218.2) {curr\_compl\_s\_U\_cache\_\\curr\_grad\_lag\_s\_cache\_\\trial\_jac\_cT\_times\_vec\_cache\_\\curr\_jac\_cT\_times\_vec\_cache\_\\trial\_grad\_lag\_s\_cache\_\\curr\_d\_cache\_\\trial\_grad\_f\_cache\_\\curr\_grad\_f\_cache\_\\curr\_jac\_dT\_times\_vec\_cache\_\\grad\_kappa\_times\_damping\_x\_cache\_\\...};
    \node[lbl] (lhesscache) at (658.5,256.7) {curr\_exact\_hessian\_cache\_};
    \node[lbl] (lmatcache) at (658.5,273.4) {trial\_jac\_d\_cache\_\\curr\_jac\_c\_cache\_\\trial\_jac\_c\_cache\_\\curr\_jac\_d\_cache\_};
    \node[lbl] (lslackcache) at (657.7,306.4) {curr\_slack\_s\_U\_cache\_\\curr\_slack\_x\_L\_cache\_\\curr\_slack\_s\_L\_cache\_\\trial\_slack\_x\_L\_cache\_\\trial\_slack\_s\_L\_cache\_\\curr\_slack\_x\_U\_cache\_\\trial\_slack\_x\_U\_cache\_\\trial\_slack\_s\_U\_cache\_};
    \node[lbl] (lipcqa) at (810.6,212.9) {ip\_cq\_};
    \node[lbl] (lcgpencq) at (810.6,229) {cgpen\_cq\_};
    \node[lbl] (lptripcq) at (810.6,363.8) {ptr\_};
    \node[lbl] (lipcqb) at (930.7,409) {ip\_cq\_};
    \node[lbl] (lptrmu) at (1118,110) {ptr\_};
    \node[lbl] (lptrhess) at (1118,345) {ptr\_};
    \node[lbl] (lptrconv) at (1118,377) {ptr\_};
    \node[lbl] (lptrls) at (1118,410) {ptr\_};
    \node[lbl] (lptritout) at (1118,425) {ptr\_};
    \node[lbl] (lptrsdc) at (1118,445) {ptr\_};
    \node[lbl] (lptritinit) at (1118,492.6) {ptr\_};
    \node[lbl] (lptreqm) at (1118,514.5) {ptr\_};
    \node[lbl] (lmuupd) at (1269.8,214.5) {mu\_update\_};
    \node[lbl] (lhessupd) at (1270,339.6) {hessian\_updater\_};
    \node[lbl] (lconvchk) at (1270,404) {conv\_check\_};
    \node[lbl] (llinesearch) at (1269,428) {line\_search\_};
    \node[lbl] (literout) at (1269.5,434) {iter\_output\_};
    \node[lbl] (lsearchdir) at (1269.5,449.7) {search\_dir\_calculator\_};
    \node[lbl] (litinit) at (1270,473) {iterate\_initializer\_};
    \node[lbl] (leqmult) at (1270,499) {eq\_multiplier\_calculator\_};
    \node[lbl] (lptralg) at (1368.7,428.5) {ptr\_};
    \node[lbl] (lrestoalg) at (1479.6,278) {resto\_alg\_};
    \node[lbl] (leqmultcalc) at (1368.8,554) {eq\_mult\_calculator\_};
\end{tikzpicture}
\end{document}
